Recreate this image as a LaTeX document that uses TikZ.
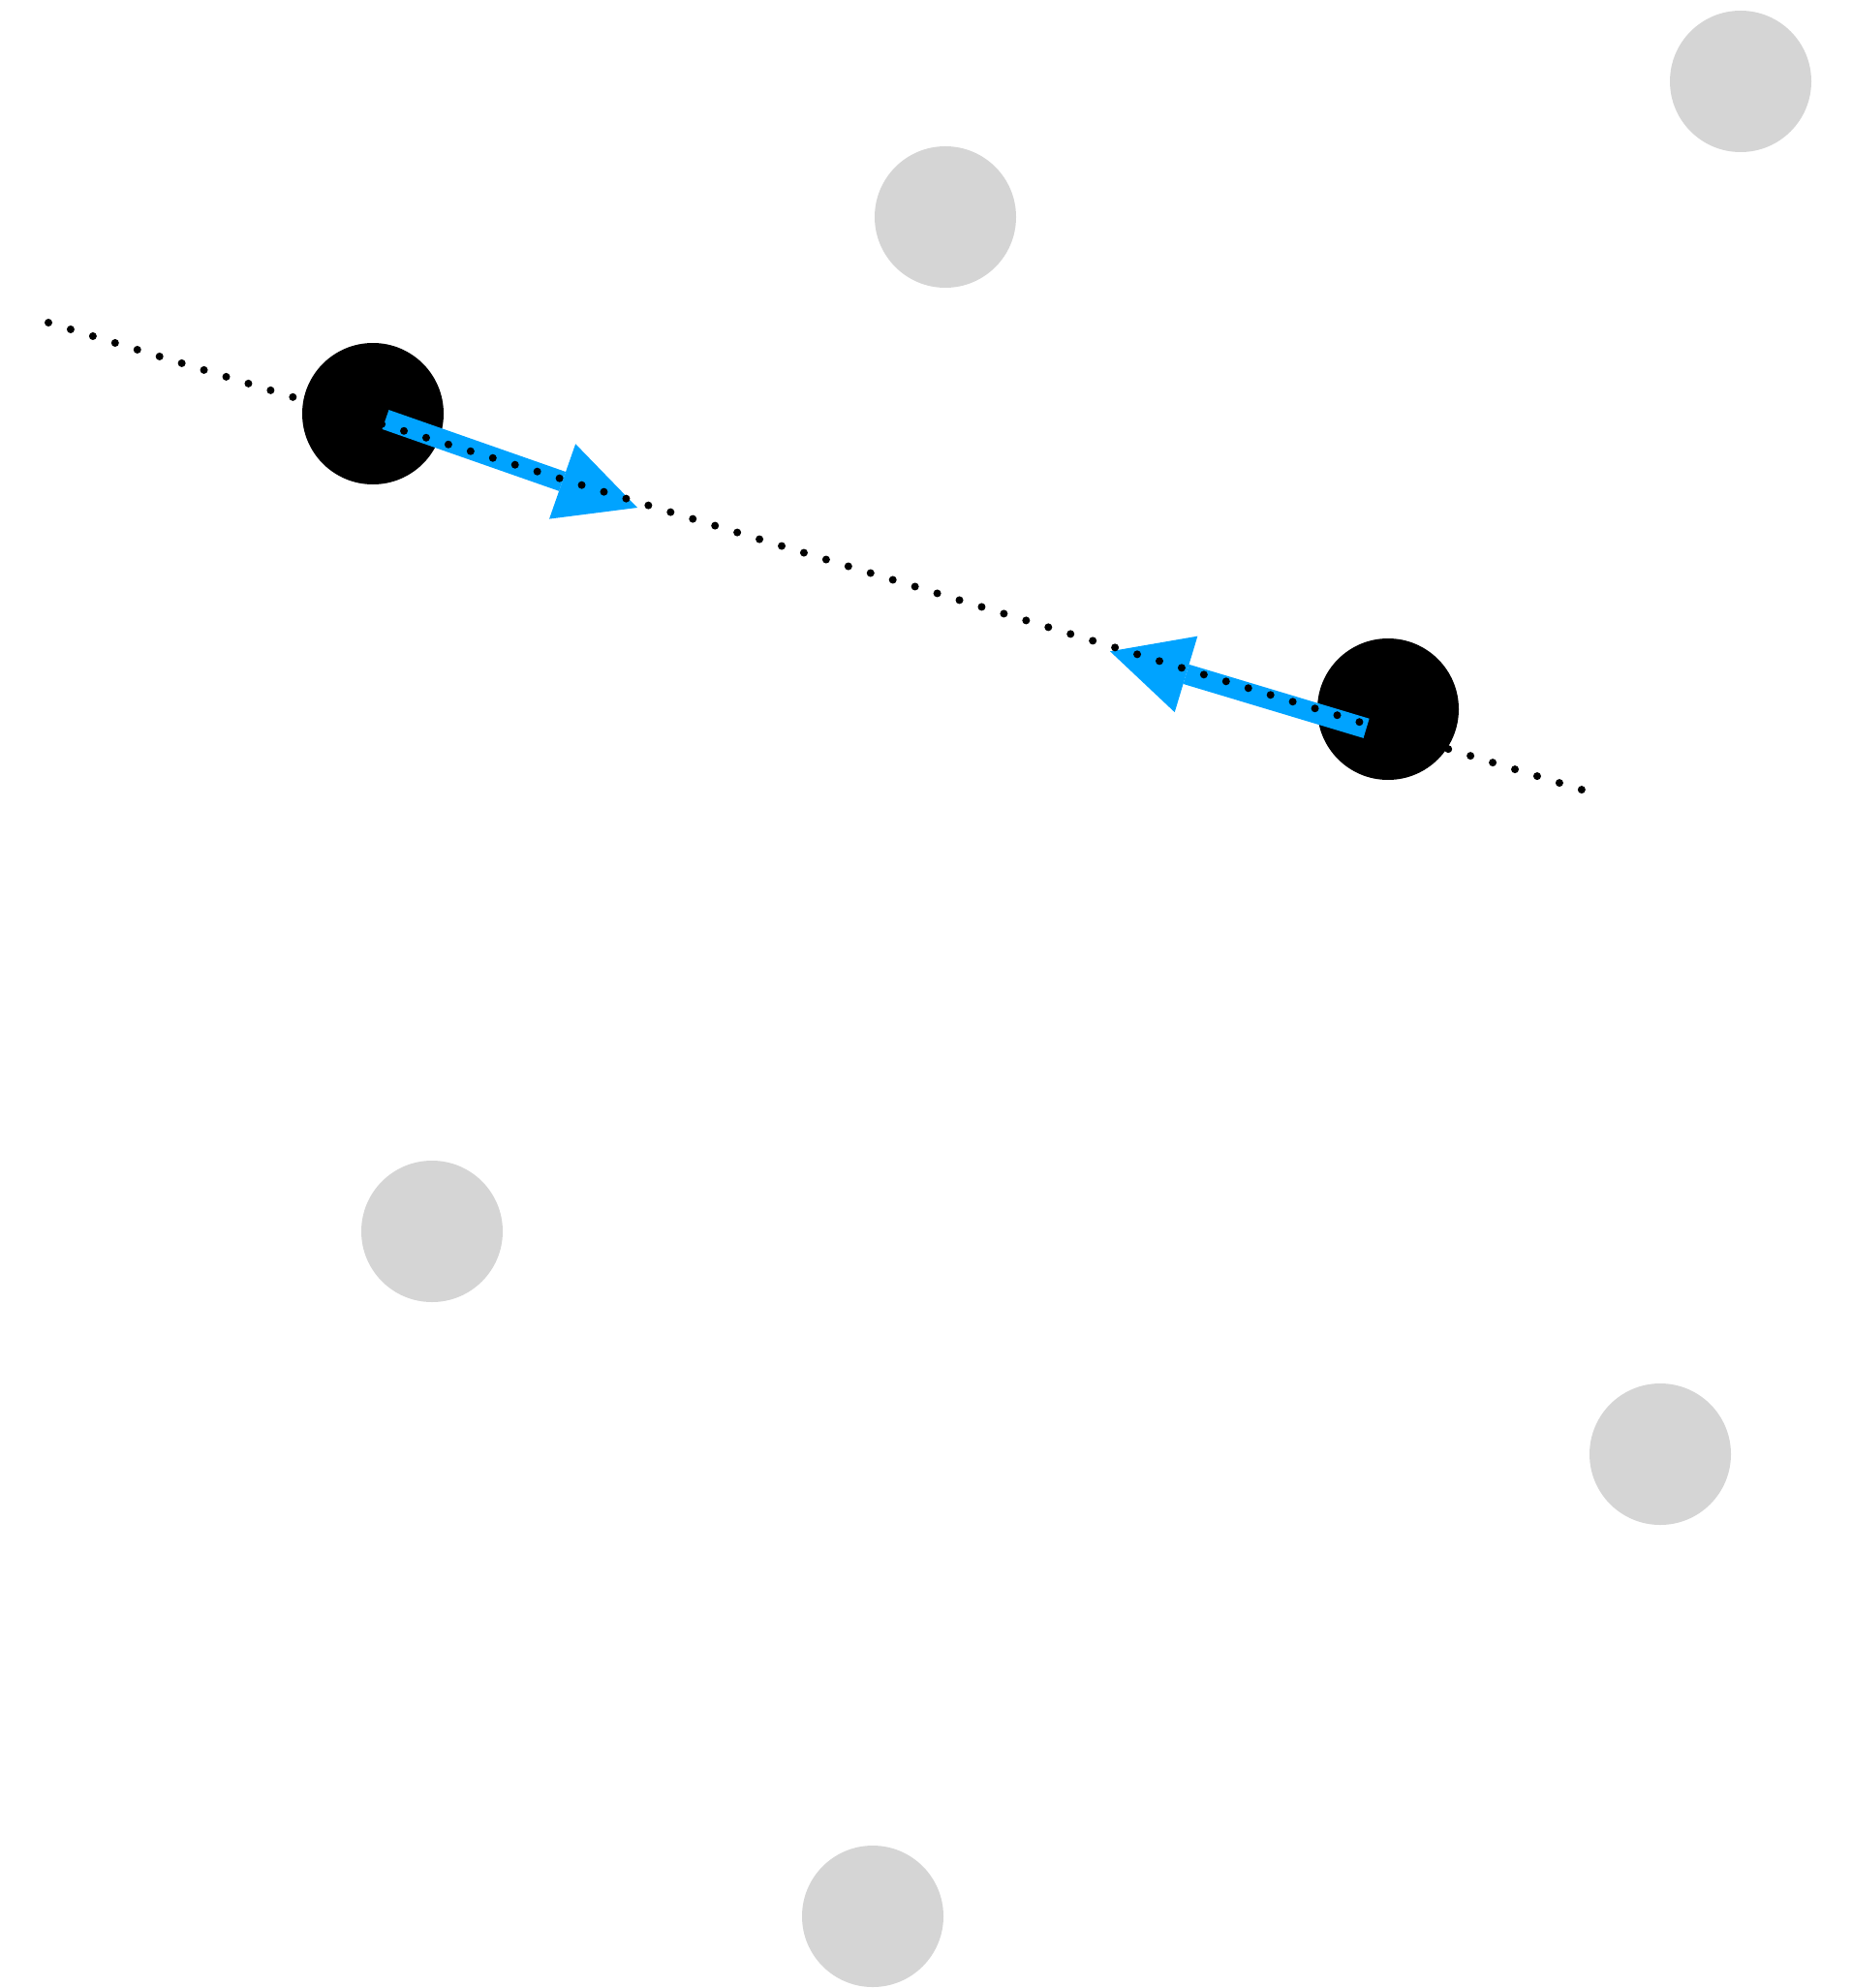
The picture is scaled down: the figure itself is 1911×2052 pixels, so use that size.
\documentclass[tikz,border=0pt]{standalone}
\usetikzlibrary{arrows.meta}
\definecolor{dotgray}{RGB}{213,213,213}
\definecolor{arrowblue}{RGB}{0,163,255}
\tikzset{
  graydot/.style={circle,fill=dotgray,draw=none,inner sep=0pt,minimum size=146pt},
  blackdot/.style={circle,fill=black,draw=none,inner sep=0pt,minimum size=146pt},
  bluearrow/.style={draw=arrowblue,line width=21pt,line cap=butt,
    -{Triangle[length=82pt,width=82pt,line width=0pt]}},
  dotline/.style={draw=black,line width=8pt,line cap=round,dash pattern=on 0pt off 23.98pt}
}
\begin{document}
\begin{tikzpicture}[x=1pt,y=-1pt]
\useasboundingbox (0,0) rectangle (1911,2052);
\node[graydot] (g1) at (1797,84) {};
\node[graydot] (g2) at (976,224) {};
\node[graydot] (g3) at (446,1271) {};
\node[graydot] (g4) at (1714,1501) {};
\node[graydot] (g5) at (901,1978) {};
\node[blackdot] (b1) at (385,427) {};
\node[blackdot] (b2) at (1433,732) {};
\coordinate (a1s) at (398,433);
\coordinate (a1e) at (658,524);
\coordinate (a2s) at (1410.6,751.8);
\coordinate (a2e) at (1146,672.3);
\draw[bluearrow] (a1s) -- (a1e);
\draw[bluearrow] (a2s) -- (a2e);
\coordinate (l1) at (50,333);
\coordinate (l2) at (1637.5,816.5);
\draw[dotline] (l1) -- (l2);
\end{tikzpicture}
\end{document}
